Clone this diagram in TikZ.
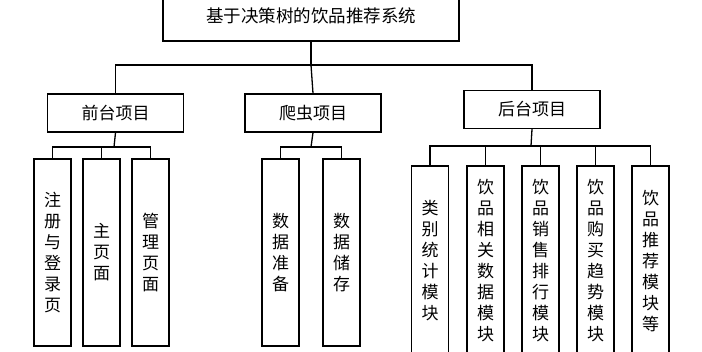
\documentclass[tikz,border=0pt]{standalone}
\usepackage{fontspec}
\setmainfont{Noto Sans CJK SC}
\begin{document}
\begin{tikzpicture}[x=1pt,y=-1pt,line width=1.3pt,
  box/.style={draw,rectangle,inner sep=0pt,align=center,font=\fontsize{17}{21}\selectfont},
  lvltwo/.style={box,minimum width=136pt,minimum height=38pt},
  leaf/.style={box,minimum width=37pt,minimum height=187pt},
  leafb/.style={box,minimum width=37pt,minimum height=190pt},
  conn/.style={draw,line width=1.3pt}]
\useasboundingbox (0,0) rectangle (702,352);
\clip (0,0) rectangle (702,352);
\fill[white] (0,0) rectangle (702,352);
% top
\node[box,minimum width=296pt,minimum height=50pt,font=\fontsize{17.5}{21}\selectfont] (top) at (311,16) {基于决策树的饮品推荐系统};
% level two
\node[lvltwo] (front) at (115.5,113) {前台项目};
\node[lvltwo] (crawl) at (313,113) {爬虫项目};
\node[lvltwo] (back) at (532,109.5) {后台项目};
% leaves front
\node[leaf] (f1) at (52.5,252.5) {注\\册\\与\\登\\录\\页};
\node[leaf] (f2) at (101.5,252.5) {主\\页\\面};
\node[leaf] (f3) at (150.5,252.5) {管\\理\\页\\面};
% leaves crawler
\node[leaf] (c1) at (280.5,252.5) {数\\据\\准\\备};
\node[leaf] (c2) at (341.5,252.5) {数\\据\\储\\存};
% leaves back
\node[leafb] (b1) at (430,261) {类\\别\\统\\计\\模\\块};
\node[leafb] (b2) at (485.5,261) {饮\\品\\相\\关\\数\\据\\模\\块};
\node[leafb] (b3) at (540.5,261) {饮\\品\\销\\售\\排\\行\\模\\块};
\node[leafb] (b4) at (595.5,261) {饮\\品\\购\\买\\趋\\势\\模\\块};
\node[leafb] (b5) at (650.5,261) {饮\\品\\推\\荐\\模\\块\\等};
% bars
\coordinate (j0) at (311,65);
\coordinate (j1) at (114,147);
\coordinate (j2) at (311,147);
\coordinate (j3) at (531,146);
% connectors
\draw[conn] (top.south) -- (j0);
\draw[conn] (front.north) |- (j0) -| (back.north);
\draw[conn] (j0) -- (crawl.north);
\draw[conn] (front.south) -- (j1);
\draw[conn] (f1.north) |- (j1) -| (f3.north);
\draw[conn] (f2.north) -- (f2.north |- j1);
\draw[conn] (crawl.south) -- (j2);
\draw[conn] (c1.north) |- (j2) -| (c2.north);
\draw[conn] (back.south) -- (j3);
\draw[conn] (b1.north) |- (j3) -| (b5.north);
\draw[conn] (b2.north) -- (b2.north |- j3);
\draw[conn] (b3.north) -- (b3.north |- j3);
\draw[conn] (b4.north) -- (b4.north |- j3);
\end{tikzpicture}
\end{document}
